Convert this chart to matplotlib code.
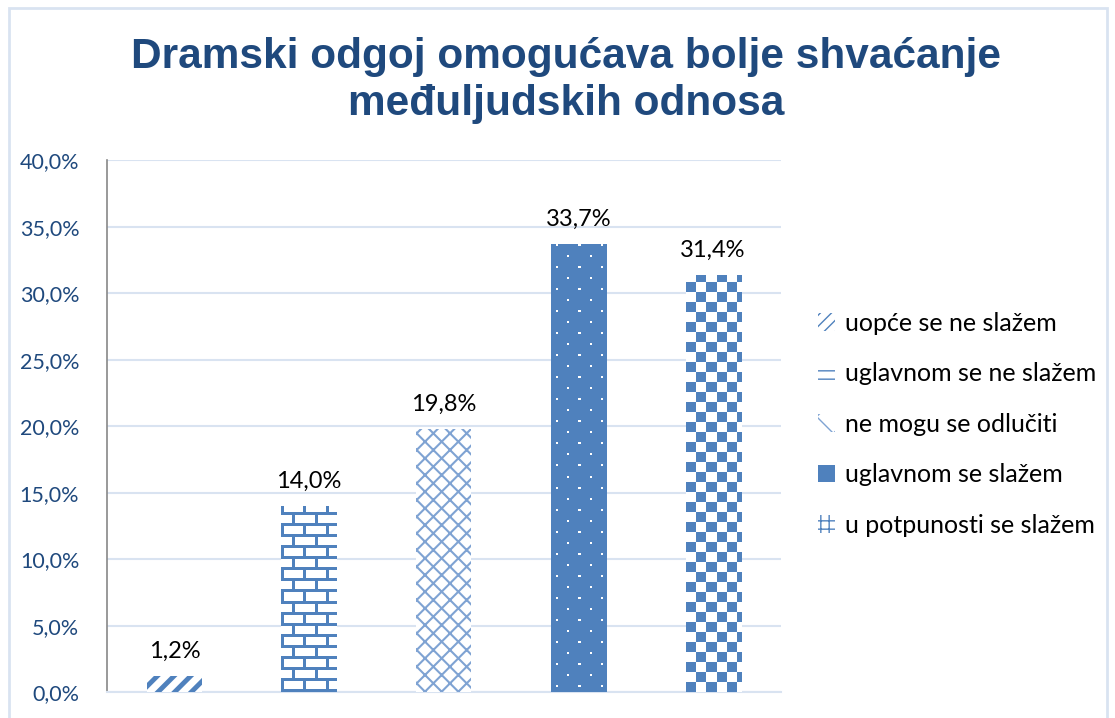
import numpy as np
import matplotlib
matplotlib.use("Agg")
from matplotlib import pyplot as plt
from matplotlib.patches import Rectangle, Patch

# data
categories = ["uopće se ne slažem", "uglavnom se ne slažem", "ne mogu se odlučiti",
              "uglavnom se slažem", "u potpunosti se slažem"]
values = [1.2, 14.0, 19.8, 33.7, 31.4]
title = "Dramski odgoj omogućava bolje shvaćanje\nmeđuljudskih odnosa"

BLUE = "#4F81BD"
DARK = "#1F497D"
GRID = "#D9E3F1"

plt.rcParams["font.family"] = ["Lato", "DejaVu Sans"]

fig = plt.figure(figsize=(11.15, 7.18), dpi=100)
fig.patches.append(Rectangle((0.008, -0.01), 0.985, 0.999, transform=fig.transFigure,
                             fill=False, edgecolor=GRID, lw=2))
ax = fig.add_axes([0.096, 0.036, 0.604, 0.741])

x = np.arange(len(values))
ax.set_xlim(-0.5, len(values) - 0.5)
ax.set_ylim(0, 40)

bars = []
for i, v in enumerate(values):
    if i == 0:
        with plt.rc_context({"hatch.linewidth": 3.5}):
            b = ax.bar(x[i], v, width=0.41, color="white", edgecolor=BLUE, lw=0,
                       hatch="//", zorder=3)
    elif i == 2:
        with plt.rc_context({"hatch.linewidth": 1.5}):
            b = ax.bar(x[i], v, width=0.41, color="white", edgecolor="#7FA3D3", lw=0,
                       hatch="xx", zorder=3)
    else:
        b = ax.bar(x[i], v, width=0.41, color="white", lw=0, zorder=3)
    bars.append(b[0])


def texture(ax, rect, tile, fg, bg="white"):
    fig.canvas.draw()
    (x0, y0), (x1, y1) = ax.transData.transform(
        [(rect.get_x(), rect.get_y()),
         (rect.get_x() + rect.get_width(), rect.get_y() + rect.get_height())])
    w = int(round(x1 - x0))
    h = int(round(y1 - y0))
    th, tw = tile.shape
    big = np.tile(tile, (h // th + 2, w // tw + 2))[:h, :w]
    img = np.ones((h, w, 3)) * np.array(matplotlib.colors.to_rgb(bg))
    img[big > 0] = np.array(matplotlib.colors.to_rgb(fg))
    im = ax.imshow(img, extent=(rect.get_x(), rect.get_x() + rect.get_width(),
                                rect.get_y(), rect.get_y() + rect.get_height()),
                   aspect="auto", interpolation="nearest", zorder=4, origin="lower")
    im.set_clip_path(rect)


# brick tile
brick = np.zeros((22, 22))
brick[0:3, :] = 1
brick[11:14, :] = 1
brick[0:11, 0:3] = 1
brick[11:22, 11:14] = 1
# dotted tile
dots = np.zeros((22, 22))
dots[5:7, 5:7] = 1
dots[16:18, 16:18] = 1
# checker tile
checker = np.kron(np.array([[1, 0], [0, 1]]), np.ones((10, 10)))

texture(ax, bars[1], brick, BLUE)
texture(ax, bars[3], dots, "white", BLUE)
texture(ax, bars[4], checker, BLUE)
ax.set_xlim(-0.5, len(values) - 0.5)
ax.set_ylim(0, 40)

for i, v in enumerate(values):
    ax.annotate(f"{v:.1f}%".replace(".", ","), (x[i], v), xytext=(0, 10),
                textcoords="offset points", ha="center", va="bottom",
                fontsize=17, color="black")

ax.set_yticks(np.arange(0, 41, 5))
ax.set_yticklabels([f"{t:.1f}%".replace(".", ",") for t in np.arange(0, 41, 5)],
                   color=DARK, fontsize=15.5)
ax.set_xticks([])
ax.grid(axis="y", color=GRID, lw=1.5, zorder=0)
ax.tick_params(axis="y", length=0, pad=20)
for s in ["top", "right"]:
    ax.spines[s].set_visible(False)
ax.spines["left"].set_color("#888888")
ax.spines["left"].set_linewidth(1.2)
ax.spines["bottom"].set_color(GRID)
ax.spines["bottom"].set_linewidth(1.5)

fig.suptitle(title, fontsize=30.5, fontweight="bold", color=DARK,
             family=["Liberation Sans", "DejaVu Sans"], x=0.508, y=0.948,
             linespacing=1.2)

handles = [
    Patch(facecolor="white", edgecolor=BLUE, hatch="///", lw=0),
    Patch(facecolor="white", edgecolor=BLUE, hatch="--", lw=0),
    Patch(facecolor="white", edgecolor="#7FA3D3", hatch="x", lw=0),
    Patch(facecolor=BLUE, lw=0),
    Patch(facecolor="white", edgecolor=BLUE, hatch="++", lw=0),
]
ax.legend(handles, categories, loc="center left", bbox_to_anchor=(1.055, 0.504),
          frameon=False, fontsize=18, handlelength=0.7, handleheight=0.7,
          handletextpad=0.4, labelspacing=1.1, borderaxespad=0, borderpad=0)

fig.savefig("out.png", dpi=100)
